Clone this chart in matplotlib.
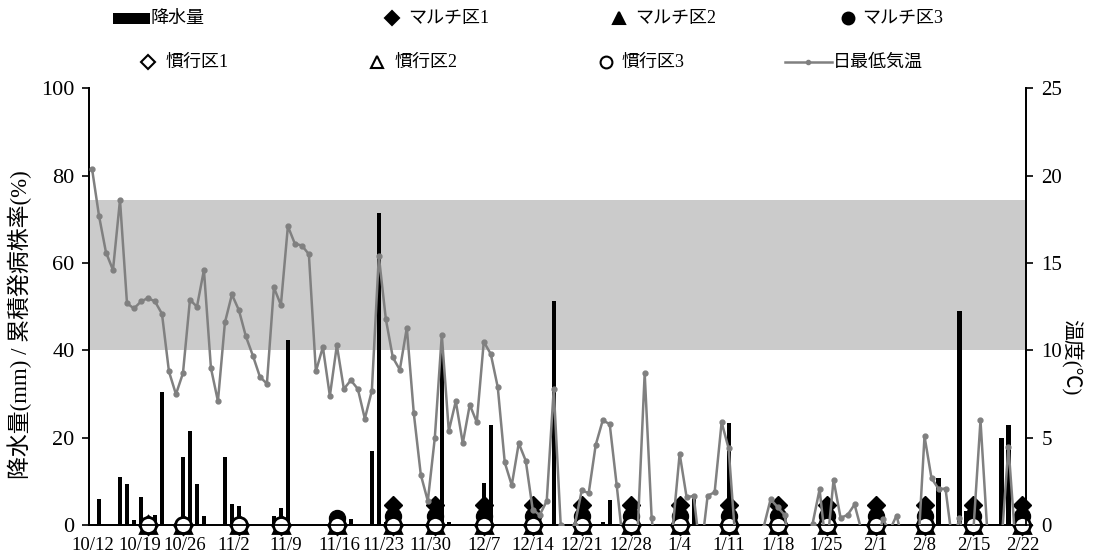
import numpy as np
import matplotlib
matplotlib.use("Agg")
import matplotlib.pyplot as plt
from matplotlib.lines import Line2D
from matplotlib.patches import Rectangle
from matplotlib.transforms import ScaledTranslation

plt.rcParams['font.family'] = ['Liberation Serif', 'Noto Sans CJK JP']

# 日別データ (10/12 を 0 日目とする)
n_days = 134
rain_days = [1, 4, 5, 6, 7, 9, 10, 13, 14, 15, 16, 19, 20, 21, 26, 27, 28, 37, 40, 41, 42,
             50, 51, 56, 57, 66, 73, 74, 86, 91, 117, 121, 124, 125, 130, 131]
rain_mm = [6.0, 11.0, 9.5, 1.3, 6.5, 2.4, 30.5, 15.6, 21.5, 9.5, 2.1, 15.6, 5.0, 4.5, 2.1, 4.0, 42.5,
           1.4, 17.0, 71.5, 0.8, 40.0, 0.8, 9.8, 23.0, 51.3, 0.8, 5.9, 6.8, 23.4, 0.3, 10.8, 49.0,
           3.4, 20.0, 22.9]

tmin = [20.4, 17.7, 15.6, 14.6, 18.6, 12.7, 12.4, 12.8, 13.0, 12.8,
        12.1, 8.8, 7.5, 8.7, 12.9, 12.5, 14.6, 9.0, 7.1, 11.6,
        13.2, 12.3, 10.8, 9.7, 8.5, 8.1, 13.6, 12.6, 17.1, 16.1,
        16.0, 15.5, 8.8, 10.2, 7.4, 10.3, 7.8, 8.3, 7.8, 6.1,
        7.7, 15.4, 11.8, 9.6, 8.9, 11.3, 6.4, 2.9, 1.4, 5.0,
        10.9, 5.4, 7.1, 4.7, 6.9, 5.9, 10.5, 9.8, 7.9, 3.6,
        2.3, 4.7, 3.7, 0.9, 0.6, 1.4, 7.8, 0.0, -1.5, 0.0,
        2.0, 1.85, 4.6, 6.0, 5.8, 2.3, -1.4, -2.0, -0.3, 8.7,
        0.4, -3.0, -2.0, -0.2, 4.1, 1.6, 1.7, -1.7, 1.7, 1.9,
        5.9, 4.4, -1.0, -2.0, -2.0, -2.0, -0.1, 1.5, 1.05, 0.6,
        -2.0, -2.0, -2.0, 0.1, 2.06, -1.5, 2.6, 0.44, 0.6, 1.2,
        -0.3, -2.0, -2.0, 0.38, -0.3, 0.57, -1.0, -1.0, -2.0, 5.1,
        2.7, 2.1, 2.1, -1.0, 0.4, -1.5, -0.2, 6.0, -0.5, -2.0,
        -1.0, 4.5, -1.0, -0.5]

# 調査日と累積発病株率(%)
obs_days = [8, 13, 21, 27, 35, 43, 49, 56, 63, 70, 77, 84, 91, 98, 105, 112, 119, 126, 133]
mulch1 = [0, 0, 0, 0, 0] + [4.7] * 14
mulch2 = [0] * 19
mulch3 = [0, 0, 0, 0, 1.6] + [2.1] * 14
conv1 = [0] * 19
conv2 = [0] * 19
conv3 = [0] * 19

tick_days = [0] + obs_days
tick_labels = ['10/12', '10/19', '10/26', '11/2', '11/9', '11/16', '11/23', '11/30', '12/7',
               '12/14', '12/21', '12/28', '1/4', '1/11', '1/18', '1/25', '2/1', '2/8', '2/15', '2/22']
# 混み合うラベルの横ずらし (px)
label_shift = [1, -8, 2, -5, 5, 2, -9, -4] + [0] * 12

W, H = 1094, 556
fig = plt.figure(figsize=(W / 100, H / 100), dpi=100)
ax = fig.add_axes([0.0809, 0.0549, 0.8569, 0.7868])

ax.axhspan(40, 74.5, color='#cbcbcb', zorder=0, lw=0)
ax.bar(rain_days, rain_mm, width=0.6, color='black', zorder=2)

mk = dict(linestyle='none', clip_on=False, zorder=3)
ax.plot(obs_days, mulch1, marker='D', ms=9.5, color='black', **mk)
ax.plot(obs_days, mulch2, marker='^', ms=11, color='black', **mk)
ax.plot(obs_days, mulch3, marker='o', ms=11.5, color='black', **mk)
ax.plot(obs_days, conv1, marker='D', ms=9.5, mfc='white', mec='black', mew=2, **mk)
ax.plot(obs_days, conv2, marker='^', ms=11, mfc='white', mec='black', mew=2, **mk)
ax.plot(obs_days, conv3, marker='o', ms=11.5, mfc='white', mec='black', mew=2, **mk)

ax.set_xlim(-0.5, n_days - 0.5)
ax.set_ylim(0, 100)
ax.set_yticks(range(0, 101, 20))
ax.set_xticks(tick_days)
ax.set_xticklabels(tick_labels)
ax.tick_params(axis='x', length=0, pad=8, labelsize=13.5)
ax.tick_params(axis='y', direction='out', length=5, width=1.2, labelsize=16, pad=5)
for lab, dx in zip(ax.get_xticklabels(), label_shift):
    lab.set_transform(lab.get_transform() + ScaledTranslation(dx / 100, 0, fig.dpi_scale_trans))
ax.set_ylabel('降水量(mm) / 累積発病株率(%)', fontsize=16.5)
ax.yaxis.set_label_coords(-0.060, 0.46)

ax2 = ax.twinx()
ax2.plot(range(n_days), tmin, color='#808080', lw=1.8, marker='o', ms=3.5, zorder=4)
ax2.set_ylim(0, 25)
ax2.set_yticks(range(0, 26, 5))
ax2.tick_params(axis='y', direction='out', length=5, width=1.2, labelsize=15, pad=6)
ax2.set_ylabel('温度(℃)', fontsize=15, rotation=270, va='center')
ax2.yaxis.set_label_coords(1.048, 0.385)

for a in (ax, ax2):
    a.spines['top'].set_visible(False)
    for s in ('left', 'right', 'bottom'):
        a.spines[s].set_linewidth(1.3)

# 凡例 (2 行 4 列, 位置はピクセル指定)
def fx(px):
    return px / W

def fy(py):
    return 1 - py / H

leg_fs = 13
row1, row2 = 18, 62
fig.add_artist(Rectangle((fx(113), fy(row1 + 5.5)), fx(150) - fx(113), 11 / H,
                         transform=fig.transFigure, facecolor='black', edgecolor='none'))
fig.text(fx(151), fy(row1), '降水量', fontsize=leg_fs, va='center')

marker_items = [
    (392, row1, 'D', 7, 'black', 'マルチ区1', 408),
    (619, row1, '^', 8.5, 'black', 'マルチ区2', 635),
    (848, row1, 'o', 8.5, 'black', 'マルチ区3', 862),
    (148, row2, 'D', 7, 'white', '慣行区1', 166),
    (377, row2, '^', 8.5, 'white', '慣行区2', 395),
    (606, row2, 'o', 8.5, 'white', '慣行区3', 622),
]
for mx, my, m, ms, fc, lab, tx in marker_items:
    fig.add_artist(Line2D([fx(mx)], [fy(my)], transform=fig.transFigure, ls='none',
                          marker=m, ms=ms, mfc=fc, mec='black', mew=1.5))
    fig.text(fx(tx), fy(my), lab, fontsize=leg_fs, va='center')

fig.add_artist(Line2D([fx(785), fx(832)], [fy(row2), fy(row2)], transform=fig.transFigure,
                      color='#808080', lw=1.8))
fig.add_artist(Line2D([fx(808)], [fy(row2)], transform=fig.transFigure, ls='none',
                      marker='o', ms=3, color='#808080'))
fig.text(fx(833), fy(row2), '日最低気温', fontsize=leg_fs, va='center')

fig.savefig('out.png', dpi=100)
